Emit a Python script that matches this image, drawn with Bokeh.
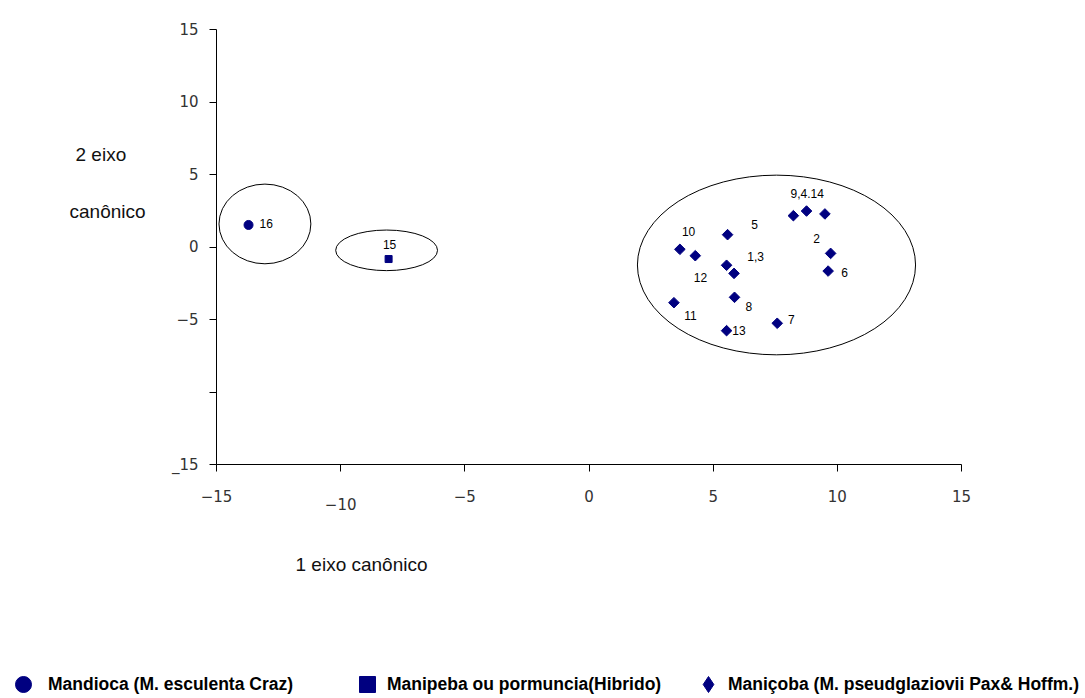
from bokeh.plotting import figure
from bokeh.models import Range1d, Label, Legend, LegendItem, FixedTicker
from bokeh.embed import file_html
from bokeh.resources import INLINE
from bokeh.core.properties import value

# ---------------- data ----------------
ticks = [-15, -10, -5, 0, 5, 10, 15]

mandioca_x = [-13.71]
mandioca_y = [1.52]

manipeba_x = [-8.07]
manipeba_y = [-0.83]

manicoba_x = [8.23, 8.76, 9.50, 5.58, 3.66, 4.28, 9.73, 5.54, 5.84, 9.63, 5.86, 3.42, 7.58, 5.54]
manicoba_y = [2.16, 2.48, 2.28, 0.85, -0.16, -0.60, -0.44, -1.26, -1.82, -1.66, -3.47, -3.84, -5.26, -5.77]

point_labels = ["16", "15", "9,4.14", "5", "10", "2", "1,3", "12", "6", "11", "8", "7", "13"]
label_x = [-13.00, -8.03, 8.79, 6.67, 4.01, 9.16, 6.71, 4.49, 10.29, 4.09, 6.44, 8.15, 6.04]
label_y = [1.59, 0.14, 3.70, 1.52, 1.06, 0.60, -0.67, -2.09, -1.77, -4.69, -4.12, -4.99, -5.77]

group_x = [-13.05, -8.15, 7.55]
group_y = [1.59, -0.23, -1.24]
group_w = [3.7, 4.1, 11.2]
group_h = [5.5, 2.8, 12.4]

legend_labels = ["Mandioca (M. esculenta Craz)",
                 "Manipeba ou pormuncia(Hibrido)",
                 "Maniçoba (M. pseudglaziovii Pax& Hoffm.)"]
x_title = "1 eixo canônico"
y_title = ["2 eixo", "canônico"]

# ---------------- layout / styles ----------------
W, H = 1080, 695
AX_LEFT, AX_RIGHT = 216, 961      # pixel position of x = -15 / +15
AX_TOP, AX_BOTTOM = 29, 464       # pixel position of y = +15 / -15
sx = (AX_RIGHT - AX_LEFT) / 30.0
sy = (AX_BOTTOM - AX_TOP) / 30.0


def px_x(px):
    return -15 + (px - AX_LEFT) / sx


def px_y(py):
    return 15 - (py - AX_TOP) / sy


NAVY = "#000080"
FONT = "Liberation Sans"
TICKFONT = "DejaVu Sans"

p = figure(width=W, height=H,
           x_range=Range1d(px_x(0), px_x(W)), y_range=Range1d(px_y(H), px_y(0)),
           min_border=0, min_border_left=0, min_border_right=0,
           min_border_top=0, min_border_bottom=0,
           output_backend="svg", toolbar_location=None,
           background_fill_color="white", border_fill_color="white",
           outline_line_color=None)
p.grid.visible = False

for ax in (p.xaxis[0], p.yaxis[0]):
    ax.fixed_location = -15
    ax.bounds = (-15, 15)
    ax.ticker = FixedTicker(ticks=ticks)
    ax.minor_tick_line_color = None
    ax.major_tick_in = 0
    ax.major_tick_out = 7
    ax.axis_line_color = "black"
    ax.major_tick_line_color = "black"
    ax.major_label_text_font = TICKFONT
    ax.major_label_text_font_size = "15px"
    ax.major_label_text_color = "#333333"

p.xaxis.major_label_standoff = 18
p.yaxis.major_label_standoff = 11
p.xaxis.major_label_overrides = {-10: ""}
p.yaxis.major_label_overrides = {-10: "", -15: "_15"}

# the -10 tick label sits lower than the others in the reference
p.add_layout(Label(x=ticks[1], y=px_y(497), text=str(ticks[1]).replace("-", "\u2212"),
                   text_font=TICKFONT, text_font_size="15px", text_color="#333333",
                   text_align="center", text_baseline="top"))

# group ellipses
p.ellipse(x=group_x, y=group_y, width=group_w, height=group_h,
          fill_color=None, line_color="black", line_width=1)

r1 = p.scatter(mandioca_x, mandioca_y, marker="circle", size=9, color=NAVY)
r2 = p.scatter(manipeba_x, manipeba_y, marker="square", size=7, color=NAVY)
r3 = p.scatter(manicoba_x, manicoba_y, marker="square", angle=0.785398, size=7.5, color=NAVY)
# zero-size proxy so that the legend shows a diamond symbol
r3_key = p.scatter(manicoba_x[:1], manicoba_y[:1], marker="diamond", size=0, color=NAVY)

p.text(x=label_x, y=label_y, text=point_labels, text_font=value(FONT),
       text_font_size="12px", text_align="center", text_baseline="middle",
       text_color="black")

# axis titles
p.add_layout(Label(x=px_x(75), y=px_y(154), text=y_title[0],
                   text_font=FONT, text_font_size="19px", text_color="#111111",
                   text_baseline="middle"))
p.add_layout(Label(x=px_x(69), y=px_y(211), text=y_title[1],
                   text_font=FONT, text_font_size="19px", text_color="#111111",
                   text_baseline="middle"))
p.add_layout(Label(x=px_x(295), y=px_y(564), text=x_title,
                   text_font=FONT, text_font_size="19px", text_color="#111111",
                   text_baseline="middle"))

# legend (three entries along the bottom)
GLYPH_W, GLYPH_H = 40, 40
leg_center_y = 684
leg_x = [3, 347, 688]
leg_standoff = [5, 0, 0]
for r, lab, lx, so in zip([r1, r2, r3_key], legend_labels, leg_x, leg_standoff):
    lg = Legend(items=[LegendItem(label=lab, renderers=[r])],
                location=(lx, H - (leg_center_y + GLYPH_H / 2)),
                orientation="horizontal", padding=0, margin=0, spacing=0,
                glyph_width=GLYPH_W, glyph_height=GLYPH_H, label_standoff=so,
                label_height=GLYPH_H,
                border_line_color=None, background_fill_alpha=0,
                label_text_font=FONT, label_text_font_style="bold",
                label_text_font_size="17.5px", label_text_color="black")
    p.add_layout(lg, "center")

open("out.html", "w").write(file_html(p, INLINE))
